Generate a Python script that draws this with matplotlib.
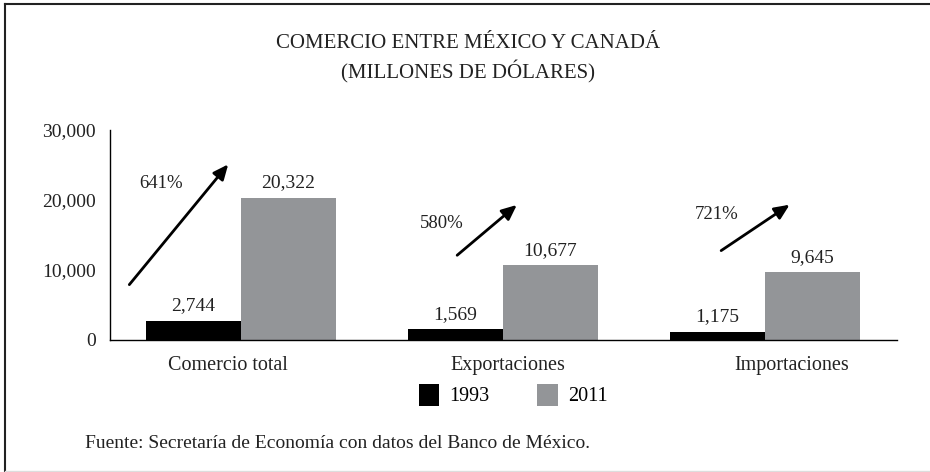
import numpy as np
import matplotlib.pyplot as plt
from matplotlib.lines import Line2D
from matplotlib.patches import Patch

categories = ["Comercio total", "Exportaciones", "Importaciones"]
years = ["1993", "2011"]
vals_1993 = [2744, 1569, 1175]
vals_2011 = [20322, 10677, 9645]
growth = ["641%", "580%", "721%"]
yticks = [0, 10000, 20000, 30000]

plt.rcParams['font.family'] = ['Liberation Serif', 'DejaVu Serif']

fig = plt.figure(figsize=(9.3, 4.72), dpi=100)
ax = fig.add_axes([110 / 930, 1 - 340 / 472, 787 / 930, 210 / 472])

x = np.arange(len(categories))
w = 0.363
b1 = ax.bar(x - w / 2, vals_1993, w, color="#000000")
b2 = ax.bar(x + w / 2, vals_2011, w, color="#939598")

for bars, vals in [(b1, vals_1993), (b2, vals_2011)]:
    for r, v in zip(bars, vals):
        ax.annotate(f"{v:,}", (r.get_x() + r.get_width() / 2, v),
                    xytext=(0, 4.5), textcoords="offset points",
                    ha="center", va="bottom", fontsize=14, color="#222222")

# growth arrows (start/end in data units)
arrows = [((-0.433, 7600), (-0.042, 25400)),
          ((0.817, 11850), (1.061, 19550)),
          ((1.824, 12550), (2.103, 19550))]
pct_pos = [(-0.305, 22300), (0.767, 16600), (1.815, 17900)]
for (s, e), p, g in zip(arrows, pct_pos, growth):
    ax.annotate("", xy=e, xytext=s,
                arrowprops=dict(arrowstyle="-|>,head_length=0.9,head_width=0.4",
                                color="black", lw=2))
    ax.text(p[0], p[1], g, ha="center", va="center", fontsize=13.5, color="#222222")

ax.set_xlim(-0.5, 2.504)
ax.set_ylim(0, 30000)
ax.set_yticks(yticks)
ax.set_yticklabels([f"{t:,}" for t in yticks], fontsize=14, color="#222222")
ax.tick_params(axis="y", length=0, pad=10)
ax.set_xticks([])
for sp in ["top", "right"]:
    ax.spines[sp].set_visible(False)
for sp in ["left", "bottom"]:
    ax.spines[sp].set_linewidth(1)

# category labels (slightly offset like the original)
cat_x = [-0.05, 1.02, 2.103]
for cx, c in zip(cat_x, categories):
    ax.text(cx, -3600, c, ha="center", va="center", fontsize=14.5, color="#222222")

fig.text(468 / 930, 1 - 43 / 472, "COMERCIO ENTRE MÉXICO Y CANADÁ",
         ha="center", va="center", fontsize=15, color="#222222")
fig.text(468 / 930, 1 - 72 / 472, "(MILLONES DE DÓLARES)",
         ha="center", va="center", fontsize=15, color="#222222")

handles = [Patch(facecolor="#000000"), Patch(facecolor="#939598")]
leg = fig.legend(handles, years, loc="center", bbox_to_anchor=(513 / 930, 1 - 395 / 472),
                 ncol=2, frameon=False, fontsize=14.5, handlelength=1.0, handleheight=1.3,
                 handletextpad=0.5, columnspacing=2.4)

fig.text(85 / 930, 1 - 443 / 472, "Fuente: Secretaría de Economía con datos del Banco de México.",
         ha="left", va="center", fontsize=14, color="#222222")

# outer frame
fig.add_artist(Line2D([5 / 930, 5 / 930], [0, 1 - 4 / 472], color="#222222", lw=1.5,
                      transform=fig.transFigure))
fig.add_artist(Line2D([5 / 930, 1], [1 - 4 / 472, 1 - 4 / 472], color="#222222", lw=1.5,
                      transform=fig.transFigure))
fig.add_artist(Line2D([5 / 930, 1], [1 / 472, 1 / 472], color="#dddddd", lw=1,
                      transform=fig.transFigure))

fig.savefig("out.png", dpi=100)
